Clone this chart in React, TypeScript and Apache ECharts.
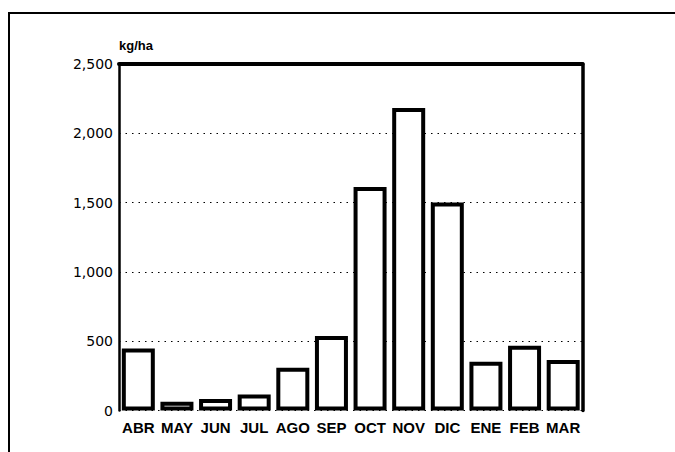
import React, { useEffect, useRef } from "react";
import * as echarts from "echarts";

const months = ["ABR", "MAY", "JUN", "JUL", "AGO", "SEP", "OCT", "NOV", "DIC", "ENE", "FEB", "MAR"];
const yields = [448, 63, 83, 115, 308, 537, 1612, 2182, 1500, 352, 467, 364];
const yTicks = [0, 500, 1000, 1500, 2000, 2500];
const unitLabel = "kg/ha";

export default function App() {
  const ref = useRef<HTMLDivElement>(null);
  useEffect(() => {
    document.body.style.margin = "0";
    const chart = echarts.init(ref.current!, null, { renderer: "svg" });
    chart.setOption({
      animation: false,
      backgroundColor: "#ffffff",
      grid: { left: 119, right: 92.5, top: 64, bottom: 41.5, containLabel: false },
      graphic: [
        {
          type: "rect",
          shape: { x: 9, y: 13, width: 720, height: 500 },
          style: { fill: "none", stroke: "#000", lineWidth: 2 },
          silent: true,
        },
      ],
      xAxis: [
        {
          type: "category",
          data: months,
          axisLine: { show: false },
          axisTick: { show: false },
          axisLabel: {
            margin: 9,
            color: "#000",
            fontFamily: "Liberation Sans",
            fontWeight: "bold",
            fontSize: 15,
            interval: 0,
          },
        },
        {
          type: "category",
          data: months,
          position: "top",
          axisLine: { show: true, onZero: false, lineStyle: { color: "#000", width: 4 } },
          axisTick: { show: false },
          axisLabel: { show: false },
        },
      ],
      yAxis: [
        {
          type: "value",
          min: yTicks[0],
          max: yTicks[yTicks.length - 1],
          interval: 500,
          name: unitLabel,
          nameLocation: "end",
          nameGap: 12,
          nameTextStyle: {
            align: "left",
            verticalAlign: "bottom",
            color: "#000",
            fontFamily: "Liberation Sans",
            fontWeight: "bold",
            fontSize: 13,
          },
          axisLine: { show: true, onZero: false, lineStyle: { color: "#000", width: 2.5 } },
          axisTick: { show: false },
          axisLabel: {
            margin: 6,
            color: "#000",
            fontFamily: "DejaVu Sans",
            fontSize: 14,
            formatter: (v: number) => v.toLocaleString("en-US"),
          },
          splitLine: {
            show: true,
            lineStyle: { color: "#000", width: 1, type: [1.5, 5] },
          },
        },
        {
          type: "value",
          position: "right",
          min: yTicks[0],
          max: yTicks[yTicks.length - 1],
          interval: 500,
          axisLine: { show: true, onZero: false, lineStyle: { color: "#000", width: 3.5 } },
          axisTick: { show: false },
          axisLabel: { show: false },
          splitLine: { show: false },
        },
      ],
      series: [
        {
          type: "bar",
          xAxisIndex: 0,
          yAxisIndex: 0,
          data: yields,
          barWidth: 33,
          itemStyle: { color: "#ffffff", borderColor: "#000", borderWidth: 4 },
        },
      ],
    });
    return () => chart.dispose();
  }, []);
  return <div ref={ref} style={{ width: 675, height: 452 }} />;
}
